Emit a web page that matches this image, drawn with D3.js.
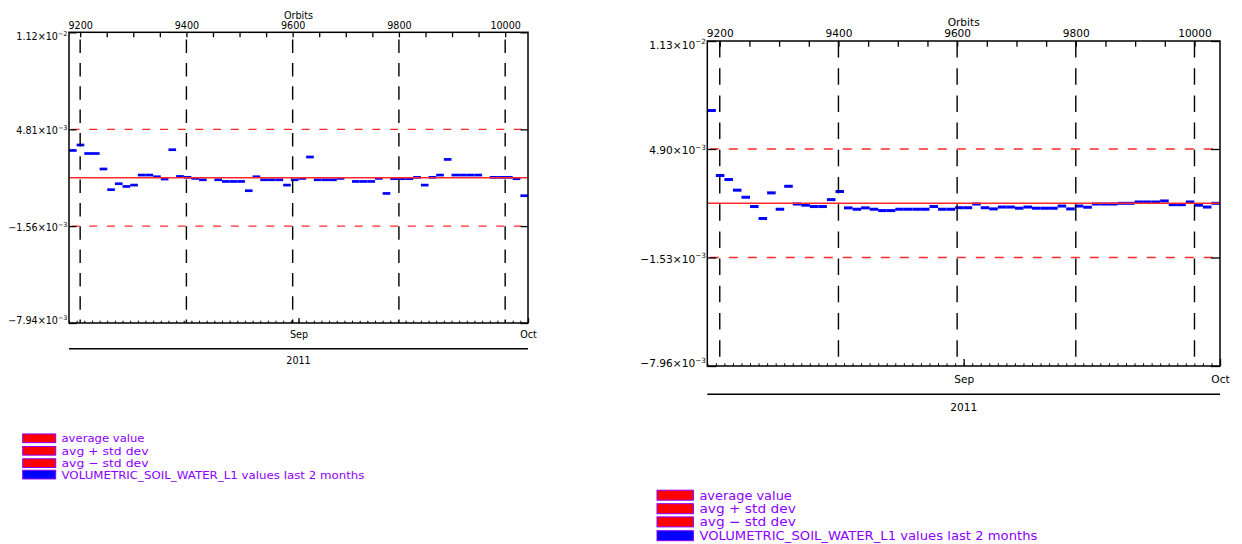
<!DOCTYPE html>
<html><head><meta charset="utf-8">
<script src="https://cdn.jsdelivr.net/npm/d3@7"></script>
<style>
body{margin:0;background:#fff}
svg{display:block}
text{font-family:"DejaVu Sans",sans-serif}
</style>
</head><body>
<svg id="c" width="1242" height="544"></svg>
<script>
// ---------- data ----------
const startDate = "2011-08-02";
const endDate = "2011-10-01";
const orbitDomain = [9179, 10043];
const orbitLabelTicks = [9200, 9400, 9600, 9800, 10000];
const orbitMinorTicks = [9200,9250,9300,9350,9400,9450,9500,9550,9600,9650,9700,9750,9800,9850,9900,9950,10000];
const monthTicks = ["2011-09-01", "2011-10-01"];
const monthLabels = ["Sep", "Oct"];
const yearLabel = "2011";
const axisTitle = "Orbits";
const legendLabels = ["average value", "avg + std dev", "avg \u2212 std dev", "VOLUMETRIC_SOIL_WATER_L1 values last 2 months"];

// values in units of 1e-3
const leftTicks = [11.2, 4.81, -1.56, -7.94];
const leftTickMant = ["1.12", "4.81", "\u22121.56", "\u22127.94"];
const leftTickExp = ["\u22122", "\u22123", "\u22123", "\u22123"];
const leftValues = [3.42, 3.78, 3.22, 3.22, 2.20, 0.84, 1.23, 1.05, 1.14, 1.80,
  1.80, 1.69, 1.54, 3.47, 1.71, 1.65, 1.58, 1.49, null, 1.49,
  1.38, 1.38, 1.38, 0.77, 1.69, 1.49, 1.49, 1.49, 1.14, 1.49,
  1.58, 2.99, 1.49, 1.49, 1.49, 1.58, null, 1.38, 1.38, 1.38,
  1.58, 0.59, 1.56, 1.56, 1.56, 1.65, 1.14, 1.65, 1.80, 2.83,
  1.80, 1.80, 1.80, 1.80, null, 1.65, 1.65, 1.65, 1.56, 0.44];

const rightTicks = [11.3, 4.90, -1.53, -7.96];
const rightTickMant = ["1.13", "4.90", "\u22121.53", "\u22127.96"];
const rightTickExp = ["\u22122", "\u22123", "\u22123", "\u22123"];
const rightValues = [7.18, 3.33, 3.09, 2.46, 2.04, 1.49, 0.78, 2.30, 1.33, 2.69,
  1.64, 1.57, 1.49, 1.49, 1.90, 2.38, 1.41, 1.33, 1.41, 1.33,
  1.25, 1.25, 1.33, 1.33, 1.33, 1.33, 1.49, 1.33, 1.33, 1.42,
  1.42, 1.64, 1.42, 1.35, 1.46, 1.46, 1.39, 1.46, 1.39, 1.39,
  1.39, 1.52, 1.35, 1.52, 1.45, 1.64, 1.64, 1.64, 1.68, 1.68,
  1.76, 1.76, 1.76, 1.82, 1.60, 1.60, 1.76, 1.57, 1.46, 1.68];

// ---------- layout ----------
const leftCfg = {x0:69, x1:528, y0:32.3, y1:323, fs:9.6, bw:2.7,
  vdash:[13.5, 9.84], vdashOff:16.1, rdash:[8, 9.7], ytick:7.5, ttick:5, bminor:2.3, bmajor:5,
  orbY:15.7, topPad:3.8, botPad:8.6, yearLineY:348.7, yearY:360.7,
  leg:{bx:22.7, bw:33, bh:8.7, rows:[438.3, 450.8, 463.1, 474.6], tx:61.5, tw:[83, 87, 87, 303], fs:11}};
const rightCfg = {x0:707.3, x1:1220, y0:41, y1:366, fs:10.6, bw:3,
  vdash:[16.5, 10.7], vdashOff:0, rdash:[9, 10], ytick:9, ttick:5.7, bminor:2.7, bmajor:7,
  orbY:22, topPad:4.5, botPad:9.3, yearLineY:394.3, yearY:407,
  leg:{bx:657, bw:36.4, bh:10, rows:[495.2, 508.7, 521.9, 535.7], tx:699.4, tw:[92.4, 96.4, 96.4, 338], fs:12.3}};

const svg = d3.select("#c");
const parseDate = d3.utcParse("%Y-%m-%d");
const purple = "#8c00ff";

function drawChart(cfg, vals, ticks, mant, exps) {
  const g = svg.append("g");
  const t0 = parseDate(startDate), t1 = parseDate(endDate);
  const x = d3.scaleUtc().domain([t0, t1]).range([cfg.x0, cfg.x1]);
  const xo = d3.scaleLinear().domain(orbitDomain).range([cfg.x0, cfg.x1]);
  const y = d3.scaleLinear().domain([ticks[3], ticks[0]]).range([cfg.y1, cfg.y0]);
  const avg = (ticks[1] + ticks[2]) / 2;
  const days = d3.utcDay.range(t0, t1);

  // blue daily values
  g.append("g").selectAll("line")
    .data(days.map((d, i) => ({d, v: vals[i]})).filter(p => p.v != null))
    .join("line")
    .attr("x1", p => x(p.d)).attr("x2", p => x(d3.utcDay.offset(p.d, 1)))
    .attr("y1", p => y(p.v)).attr("y2", p => y(p.v))
    .attr("stroke", "#0000ff").attr("stroke-width", cfg.bw);

  // red lines
  const red = g.append("g");
  red.append("line").attr("x1", cfg.x0).attr("x2", cfg.x1).attr("y1", y(avg)).attr("y2", y(avg))
    .attr("stroke", "#ff2a2a").attr("stroke-width", 1.3);
  red.selectAll("line.d").data([ticks[1], ticks[2]]).join("line").attr("class", "d")
    .attr("x1", cfg.x0).attr("x2", cfg.x1).attr("y1", d => y(d)).attr("y2", d => y(d))
    .attr("stroke", "#ff2a2a").attr("stroke-width", 1.3).attr("stroke-dasharray", cfg.rdash.join(","))
    .attr("stroke-dashoffset", -2.5);

  // black dashed orbit lines
  g.append("g").selectAll("line").data(orbitLabelTicks).join("line")
    .attr("x1", d => xo(d)).attr("x2", d => xo(d)).attr("y1", cfg.y0).attr("y2", cfg.y1)
    .attr("stroke", "#000").attr("stroke-width", 1.4)
    .attr("stroke-dasharray", cfg.vdash.join(",")).attr("stroke-dashoffset", cfg.vdashOff);

  // box
  g.append("rect").attr("x", cfg.x0).attr("y", cfg.y0).attr("width", cfg.x1 - cfg.x0).attr("height", cfg.y1 - cfg.y0)
    .attr("fill", "none").attr("stroke", "#000").attr("stroke-width", 1.5);

  // top orbit axis
  const top = g.append("g").attr("transform", `translate(0,${cfg.y0})`)
    .call(d3.axisTop(xo).tickValues(orbitMinorTicks).tickSize(-cfg.ttick).tickPadding(cfg.topPad)
      .tickFormat(d => orbitLabelTicks.includes(d) ? String(d) : ""));
  top.select(".domain").remove();
  top.selectAll("line").attr("stroke-width", 1.3);
  top.selectAll("text").attr("font-size", cfg.fs).attr("font-family", "DejaVu Sans").attr("fill", "#000");
  g.append("text").attr("x", (cfg.x0 + cfg.x1) / 2).attr("y", cfg.orbY).attr("dy", "0.36em")
    .attr("text-anchor", "middle").attr("font-size", cfg.fs).text(axisTitle);

  // bottom date axis: daily minor ticks
  const bm = g.append("g").attr("transform", `translate(0,${cfg.y1})`)
    .call(d3.axisBottom(x).ticks(d3.utcDay.every(1)).tickSize(-cfg.bminor).tickFormat(""));
  bm.select(".domain").remove();
  bm.selectAll("line").attr("stroke-width", 1);
  const bM = g.append("g").attr("transform", `translate(0,${cfg.y1})`)
    .call(d3.axisBottom(x).tickValues(monthTicks.map(parseDate)).tickSize(-cfg.bmajor).tickPadding(cfg.botPad)
      .tickFormat((d, i) => monthLabels[i]));
  bM.select(".domain").remove();
  bM.selectAll("line").attr("stroke-width", 1.3);
  bM.selectAll("text").attr("font-size", cfg.fs).attr("font-family", "DejaVu Sans").attr("fill", "#000");

  // year
  g.append("line").attr("x1", cfg.x0).attr("x2", cfg.x1).attr("y1", cfg.yearLineY).attr("y2", cfg.yearLineY)
    .attr("stroke", "#000").attr("stroke-width", 1.5);
  g.append("text").attr("x", (cfg.x0 + cfg.x1) / 2).attr("y", cfg.yearY).attr("dy", "0.36em")
    .attr("text-anchor", "middle").attr("font-size", cfg.fs).text(yearLabel);

  // y axes (ticks both sides)
  const yl = g.append("g").attr("transform", `translate(${cfg.x0},0)`)
    .call(d3.axisLeft(y).tickValues(ticks).tickSize(-cfg.ytick).tickPadding(1.5).tickFormat(""));
  yl.select(".domain").remove();
  yl.selectAll("line").attr("stroke-width", 1.3);
  yl.selectAll(".tick text").each(function(d, i) {
    const t = d3.select(this).attr("font-size", cfg.fs).attr("font-family", "DejaVu Sans").attr("fill", "#000");
    const py = y(d);
    const c = Math.max(cfg.y0 + 3.5, Math.min(cfg.y1 - 3, py + 1));
    t.attr("dy", null).attr("y", c - py + cfg.fs * 0.36);
    t.append("tspan").text(mant[i] + "\u00d710");
    t.append("tspan").attr("font-size", cfg.fs * 0.68).attr("dy", -cfg.fs * 0.42).text(exps[i]);
  });
  const yr = g.append("g").attr("transform", `translate(${cfg.x1},0)`)
    .call(d3.axisRight(y).tickValues(ticks).tickSize(-cfg.ytick).tickFormat(""));
  yr.select(".domain").remove();
  yr.selectAll("line").attr("stroke-width", 1.3);

  // legend
  const L = cfg.leg;
  const colors = ["#ff0000", "#ff0000", "#ff0000", "#0000ff"];
  const lg = g.append("g");
  lg.selectAll("rect").data(legendLabels).join("rect")
    .attr("x", L.bx).attr("y", (d, i) => L.rows[i] - L.bh / 2).attr("width", L.bw).attr("height", L.bh)
    .attr("fill", (d, i) => colors[i]).attr("stroke", purple).attr("stroke-width", 1);
  lg.selectAll("text").data(legendLabels).join("text")
    .attr("x", L.tx).attr("y", (d, i) => L.rows[i]).attr("dy", "0.36em")
    .attr("font-size", L.fs).attr("fill", purple)
    .attr("textLength", (d, i) => L.tw[i]).attr("lengthAdjust", "spacingAndGlyphs")
    .text(d => d);
}

drawChart(leftCfg, leftValues, leftTicks, leftTickMant, leftTickExp);
drawChart(rightCfg, rightValues, rightTicks, rightTickMant, rightTickExp);
</script>
</body></html>
